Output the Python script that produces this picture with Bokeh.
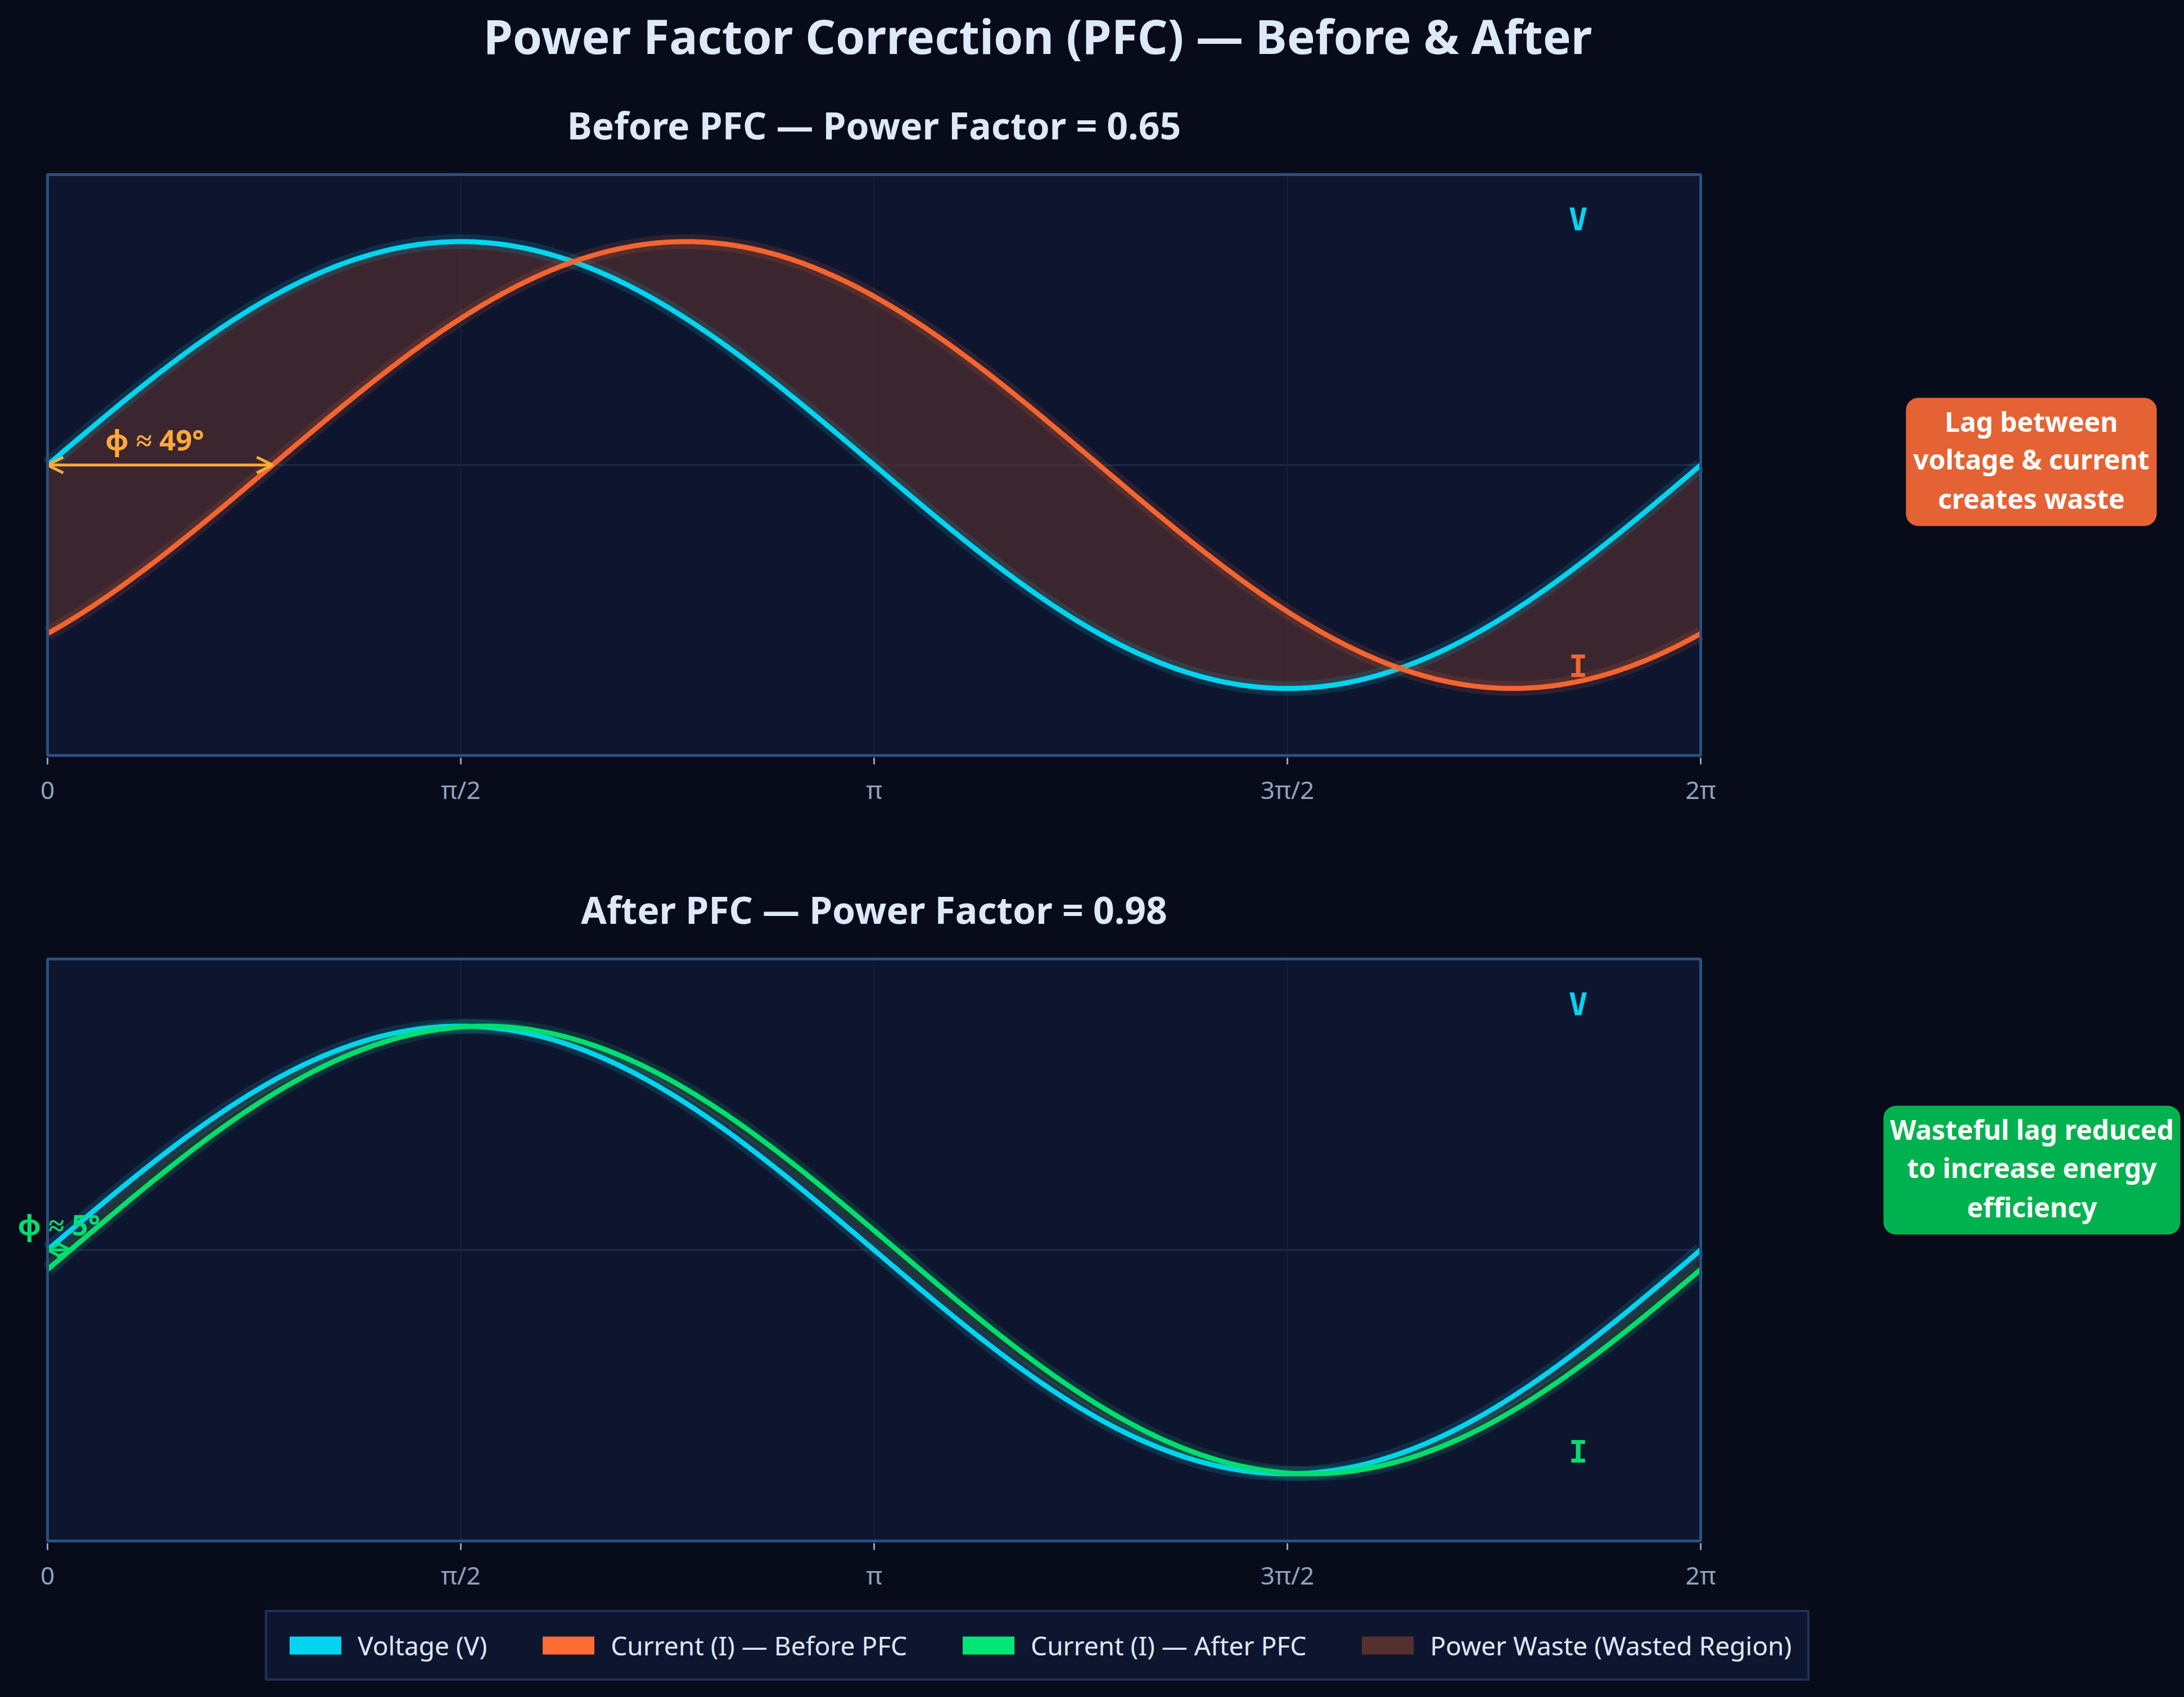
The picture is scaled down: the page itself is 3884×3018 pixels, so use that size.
import numpy as np
from bokeh.plotting import figure
from bokeh.layouts import column, row
from bokeh.models import (Label, Arrow, OpenHead, Legend, LegendItem, FixedTicker,
                          Range1d, ColumnDataSource)
from bokeh.embed import file_html
from bokeh.resources import INLINE

# ---------------- data ----------------
AMPLITUDE = 1.0
PHASE_BEFORE_DEG = 49      # current lag before PFC
PHASE_AFTER_DEG = 5        # current lag after PFC
PF_BEFORE = 0.65
PF_AFTER = 0.98
TICK_VALUES = [0, np.pi / 2, np.pi, 3 * np.pi / 2, 2 * np.pi]
TICK_LABELS = ["0", "π/2", "π", "3π/2", "2π"]
LEGEND_LABELS = ["Voltage (V)", "Current (I) — Before PFC",
                 "Current (I) — After PFC", "Power Waste (Wasted Region)"]
NOTE_BEFORE = ["Lag between", "voltage & current", "creates waste"]
NOTE_AFTER = ["Wasteful lag reduced", "to increase energy", "efficiency"]

# ---------------- styling ----------------
W, H = 3884, 3018
BG = "#080c1a"
PLOT_BG = "#0e152f"
FRAME = "#2a5080"
CYAN = "#00d4ee"
ORANGE = "#f26430"
GREEN = "#00de70"
WASTE = "#5a3030"
TXT = "#dde8f8"
TICK_C = "#8fa3bf"
PHI_ORANGE = "#ffaa3b"
FONT = "Noto Sans"
MONO = "DejaVu Sans Mono"

BOX_L, BOX_R = 84, 3024      # axes box left/right (px)
PLOT_W = 3160                # width of the plotting figures
SIDE_W = W - PLOT_W
YMAX = 1.3
PAD = 4                      # frame margin around the axes box (px)

x = np.linspace(0, 2 * np.pi, 720)
v = AMPLITUDE * np.sin(x)
i_before = AMPLITUDE * np.sin(x - np.deg2rad(PHASE_BEFORE_DEG))
i_after = AMPLITUDE * np.sin(x - np.deg2rad(PHASE_AFTER_DEG))


def xd(px):
    return (px - BOX_L) / (BOX_R - BOX_L) * 2 * np.pi


def canvas_fig(x0, x1, y0, y1, top=0, bottom=0):
    """Figure whose data coords are absolute page pixels (y negated)."""
    p = figure(width=x1 - x0, height=y1 - y0,
               x_range=Range1d(x0, x1), y_range=Range1d(-(y1 - bottom), -(y0 + top)),
               output_backend="svg",
               toolbar_location=None, x_axis_location=None, y_axis_location=None,
               min_border=0, min_border_left=0, min_border_right=0,
               min_border_top=top, min_border_bottom=bottom,
               background_fill_color=BG, border_fill_color=BG,
               outline_line_color=None, styles={"background-color": BG})
    p.grid.visible = False
    return p


def plot_fig(fig_top, fig_bottom, box_top, box_bottom):
    height = fig_bottom - fig_top
    ppu = (box_bottom - box_top) / (2 * YMAX)
    ext = PAD / ppu
    frame_r = BOX_R + PAD
    p = figure(width=PLOT_W, height=height,
               x_range=Range1d(xd(0), xd(frame_r)),
               y_range=Range1d(-YMAX - ext, YMAX + ext), output_backend="svg",
               toolbar_location=None, y_axis_location=None,
               min_border=0, min_border_left=0, min_border_right=PLOT_W - frame_r,
               min_border_top=box_top - PAD - fig_top,
               min_border_bottom=fig_bottom - (box_bottom + PAD),
               background_fill_color=BG, border_fill_color=BG,
               outline_line_color=None, styles={"background-color": BG})
    ax = p.xaxis[0]
    ax.ticker = FixedTicker(ticks=TICK_VALUES)
    ax.major_label_overrides = {float(t): l for t, l in zip(TICK_VALUES, TICK_LABELS)}
    ax.major_label_overrides.update({0: "0"})
    ax.axis_line_color = None
    ax.major_tick_line_color = TICK_C
    ax.major_tick_line_width = 3
    ax.major_tick_in = 0
    ax.major_tick_out = 12
    ax.minor_tick_line_color = None
    ax.major_label_text_color = TICK_C
    ax.major_label_text_font = FONT
    ax.major_label_text_font_size = "44px"
    ax.major_label_standoff = 14
    p.xgrid.ticker = FixedTicker(ticks=TICK_VALUES[1:-1])
    p.xgrid.grid_line_color = "#16203d"
    p.xgrid.grid_line_width = 2
    p.ygrid.visible = False
    p.quad(left=[0], right=[2 * np.pi], bottom=[-YMAX], top=[YMAX],
           fill_color=PLOT_BG, line_color=None, level="image")
    p.segment(x0=[0], y0=[0], x1=[2 * np.pi], y1=[0], line_color="#1c2b4a",
              line_width=3, level="underlay")
    return p, box_top - PAD - fig_top, fig_bottom - (box_bottom + PAD)


def add_box_border(p):
    p.quad(left=[0], right=[2 * np.pi], bottom=[-YMAX], top=[YMAX],
           fill_color=None, line_color=FRAME, line_width=5, level="overlay")


def draw_wave(p, src, ycol, color):
    p.line("x", ycol, source=src, line_color=color, line_width=26, line_alpha=0.14)
    p.line("x", ycol, source=src, line_color=color, line_width=9)


def text(p, xv, yv, s, color, size, font=FONT, bold=True, align="center"):
    p.add_layout(Label(x=xv, y=yv, text=s, text_color=color, text_font=font,
                       text_font_style="bold" if bold else "normal",
                       text_font_size=size, text_align=align,
                       text_baseline="middle"))


def phase_arrow(p, phi, color, size):
    head = dict(size=size, line_color=color, line_width=5)
    p.add_layout(Arrow(start=OpenHead(**head), end=OpenHead(**head),
                       x_start=0, y_start=0, x_end=phi, y_end=0,
                       line_color=color, line_width=5))


def note_box(p, left, right, top, bottom, lines, line_ys, color):
    p.quad(left=[left], right=[right], top=[-top], bottom=[-bottom],
           fill_color=color, line_color=None, border_radius=22)
    xc = (left + right) / 2
    for s, yy in zip(lines, line_ys):
        text(p, xc, -yy, s, "white", "48px")


# ---------------- header 1 (y 0..280) ----------------
head1 = canvas_fig(0, W, 0, 280)
text(head1, 1845, -63, "Power Factor Correction (PFC) — Before & After", TXT, "84px")
text(head1, (BOX_L + BOX_R) / 2, -221,
     f"Before PFC — Power Factor = {PF_BEFORE:.2f}", TXT, "66px")

# ---------------- top plot (y 280..1480) ----------------
T1, B1 = 280, 1480
p1, bt1, bb1 = plot_fig(T1, B1, 310, 1343)
src1 = ColumnDataSource(dict(x=x, v=v, i=i_before))
p1.varea("x", "v", "i", source=src1, fill_color=WASTE, fill_alpha=0.6)
draw_wave(p1, src1, "v", CYAN)
draw_wave(p1, src1, "i", ORANGE)
add_box_border(p1)

phi1 = np.deg2rad(PHASE_BEFORE_DEG)
phase_arrow(p1, phi1, PHI_ORANGE, 28)
text(p1, phi1 / 2 - 0.02, 0.115, f"φ ≈ {PHASE_BEFORE_DEG}°", PHI_ORANGE, "51px")
text(p1, xd(2806), 1.1, "V", CYAN, "56px", font=MONO)
text(p1, xd(2806), -0.9, "I", ORANGE, "56px", font=MONO)

side1 = canvas_fig(PLOT_W, W, T1, B1, top=bt1, bottom=bb1)
note_box(side1, 3389, 3835, 707, 935, NOTE_BEFORE, [748.5, 815.5, 885.5], "#e46233")

# ---------------- header 2 (y 1480..1670) ----------------
head2 = canvas_fig(0, W, 1480, 1670)
text(head2, (BOX_L + BOX_R) / 2, -1616,
     f"After PFC — Power Factor = {PF_AFTER:.2f}", TXT, "66px")

# ---------------- bottom plot (y 1670..2852) ----------------
T2, B2 = 1670, 2852
p2, bt2, bb2 = plot_fig(T2, B2, 1705, 2740)
src2 = ColumnDataSource(dict(x=x, v=v, i=i_after))
p2.varea("x", "v", "i", source=src2, fill_color=WASTE, fill_alpha=0.3)
draw_wave(p2, src2, "v", CYAN)
draw_wave(p2, src2, "i", GREEN)
add_box_border(p2)

phi2 = np.deg2rad(PHASE_AFTER_DEG)
phase_arrow(p2, phi2, GREEN, 24)
text(p2, phi2 / 2, 0.115, f"φ ≈ {PHASE_AFTER_DEG}°", GREEN, "51px")
text(p2, xd(2806), 1.1, "V", CYAN, "56px", font=MONO)
text(p2, xd(2806), -0.9, "I", GREEN, "56px", font=MONO)

side2 = canvas_fig(PLOT_W, W, T2, B2, top=bt2, bottom=bb2)
note_box(side2, 3349, 3877, 1966, 2195, NOTE_AFTER, [2007.5, 2075.5, 2145.5], "#00b14f")

# ---------------- footer with legend (y 2852..3018) ----------------
foot = canvas_fig(0, W, B2, H)
swatch_colors = [CYAN, "#ff6b35", "#00e676", "#55302f"]
items = []
for lab, col in zip(LEGEND_LABELS, swatch_colors):
    # legend proxy placed outside the visible canvas
    r = foot.rect(x=[-5000], y=[-5000], width=[1], height=[1],
                  fill_color=col, line_color=None)
    items.append(LegendItem(label=lab, renderers=[r]))
legend = Legend(items=items, orientation="horizontal",
                location=(471, H - 2989),
                glyph_width=115, glyph_height=40, label_standoff=18, spacing=87,
                padding=28, margin=0,
                label_text_color=TXT, label_text_font=FONT,
                label_text_font_size="46px",
                background_fill_color=PLOT_BG, background_fill_alpha=1.0,
                border_line_color=FRAME, border_line_width=4)
foot.add_layout(legend, "center")

layout = column(head1, row(p1, side1, spacing=0), head2, row(p2, side2, spacing=0),
                foot, spacing=0, styles={"background-color": BG})
html = file_html(layout, INLINE)
html = html.replace("<body>", f'<body style="margin:0;background-color:{BG};">', 1)
open("out.html", "w").write(html)
